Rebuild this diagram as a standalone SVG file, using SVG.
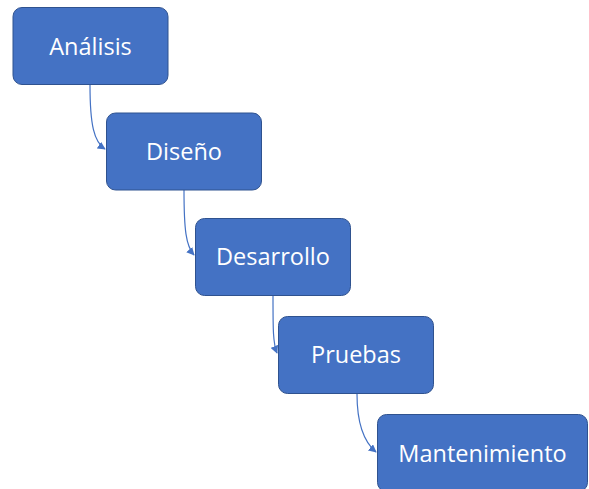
<svg xmlns="http://www.w3.org/2000/svg" width="589" height="489" viewBox="0 0 589 489">
<style>
.box{fill:#4472C4;stroke:#2F528F;stroke-width:1}
.lbl{fill:#FFFFFF;font-family:"Open Sans","Noto Sans","Liberation Sans",sans-serif;font-size:23.5px;text-anchor:middle}
.conn{fill:none;stroke:#4472C4;stroke-width:1.2}
</style>
<defs>
<marker id="arr" viewBox="0 0 10 10" refX="9" refY="5" markerWidth="8" markerHeight="8" markerUnits="userSpaceOnUse" orient="auto">
<path d="M0,0 L10,5 L0,10 z" fill="#4472C4"/>
</marker>
</defs>
<rect width="589" height="489" fill="#FFFFFF"/>
<g id="connectors">
<path class="conn" d="M90,85 C90,125 94,142 105,149" marker-end="url(#arr)"/>
<path class="conn" d="M184,190 C184,230 186,246 194,255" marker-end="url(#arr)"/>
<path class="conn" d="M273,296 C273,330 273,343 277,353" marker-end="url(#arr)"/>
<path class="conn" d="M357,394 C357,425 364,442 376,452" marker-end="url(#arr)"/>
</g>
<g id="analisis">
<rect class="box" x="13" y="7.5" width="155" height="77" rx="9"/>
<text class="lbl" x="90.5" y="55">Análisis</text>
</g>
<g id="diseno">
<rect class="box" x="106.5" y="113" width="155" height="77" rx="9"/>
<text class="lbl" x="184" y="160">Diseño</text>
</g>
<g id="desarrollo">
<rect class="box" x="195.5" y="218.5" width="155" height="77" rx="9"/>
<text class="lbl" x="273" y="265">Desarrollo</text>
</g>
<g id="pruebas">
<rect class="box" x="278.5" y="316.5" width="155" height="77" rx="9"/>
<text class="lbl" x="356" y="363">Pruebas</text>
</g>
<g id="mantenimiento">
<rect class="box" x="377.5" y="414.5" width="210" height="77" rx="9"/>
<text class="lbl" x="482.5" y="462">Mantenimiento</text>
</g>
</svg>
